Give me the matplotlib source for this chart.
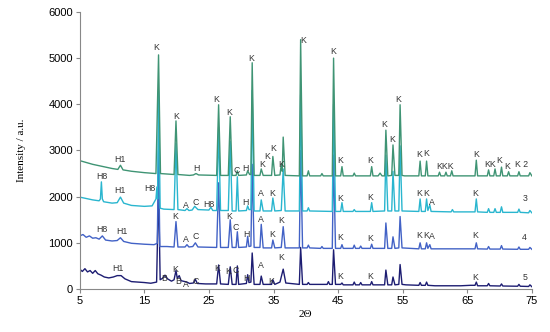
import matplotlib
matplotlib.use("Agg")
import matplotlib.pyplot as plt

# ---- data: (2theta, intensity) points ----
trace2 = [(5,2780),(6,2740),(7,2700),(8,2670),(9,2640),(10,2610),(10.9,2590),(11.3,2680),(11.7,2580),
          (13,2550),(15,2520),(16.8,2500),(17.2,5070),(17.5,2500),(19.6,2480),(19.9,3640),(20.2,2480),
          (22,2460),(22.6,2470),(23,2500),(23.4,2470),(26.2,2460),(26.5,3990),(26.8,2460),(28.0,2460),
          (28.3,3730),(28.6,2460),(29.2,2460),(29.4,2560),(29.6,2460),(30.8,2470),(31.0,2560),(31.3,2480),
          (31.5,2480),(31.7,4900),(32,2460),(32.9,2460),(33.1,2600),(33.4,2460),(34.7,2460),(34.9,2870),
          (35.2,2460),(36.0,2470),(36.2,2700),(36.35,2550),(36.5,3290),(36.8,2460),(39.0,2450),(39.2,5400),
          (39.5,2450),(40.2,2450),(40.4,2560),(40.6,2450),(42.3,2450),(42.5,2500),(42.7,2450),(44.1,2450),
          (44.3,5000),(44.6,2450),(45.4,2450),(45.6,2650),(45.8,2450),(47.3,2450),(47.5,2510),(47.7,2450),
          (50.0,2450),(50.2,2650),(50.4,2450),(51.2,2450),(51.5,2510),(51.8,2450),(52.2,2450),(52.4,3440),
          (52.7,2450),(53.3,2460),(53.5,3120),(53.8,2460),(54.4,2460),(54.6,3990),(54.9,2460),(55.3,2450),
          (57.5,2450),(57.7,2770),(57.9,2450),(58.5,2450),(58.7,2770),(58.9,2450),(60.5,2450),(60.7,2530),
          (60.9,2450),(61.5,2450),(61.7,2530),(61.9,2450),(62.4,2450),(62.6,2560),(62.8,2450),(66.2,2450),
          (66.4,2790),(66.6,2450),(68.1,2450),(68.3,2580),(68.5,2450),(69.1,2450),(69.3,2600),(69.5,2450),
          (70.1,2450),(70.3,2640),(70.5,2450),(71.2,2450),(71.4,2540),(71.6,2450),(72.8,2450),(73.0,2540),
          (73.2,2450),(74.5,2450),(74.7,2520),(75,2450)]

trace3 = [(5,1990),(6,1960),(7,1930),(8,1910),(8.2,1950),(8.35,2320),(8.5,1950),(8.7,1890),(10,1860),
          (10.8,1870),(11.3,1990),(11.8,1860),(13,1810),(15,1790),(16.2,1800),(16.8,1950),(16.95,2210),
          (17.05,1950),(17.2,4300),(17.45,1750),(18,1730),(19.6,1720),(19.9,3150),(20.2,1720),(21.3,1700),
          (21.6,1740),(21.9,1700),(22.4,1710),(22.8,1790),(23.3,1720),(25.0,1710),(25.3,1770),(25.6,1700),
          (26.2,1700),(26.5,3500),(26.8,1700),(28.0,1700),(28.3,3200),(28.6,1690),(29.2,1690),(29.4,2430),
          (29.6,1690),(30.8,1700),(31.0,1800),(31.2,1720),(31.5,1720),(31.7,4300),(32.0,1690),(32.9,1690),
          (33.1,1930),(33.4,1690),(34.7,1690),(34.9,1970),(35.2,1690),(36.2,1700),(36.5,2600),(36.8,1690),
          (39.0,1690),(39.2,4200),(39.5,1690),(40.2,1690),(40.4,1760),(40.6,1690),(44.1,1680),(44.3,4000),
          (44.6,1680),(45.4,1680),(45.6,1870),(45.8,1680),(47.3,1680),(47.5,1720),(47.7,1680),(50.0,1680),
          (50.2,1870),(50.4,1680),(52.2,1690),(52.4,2900),(52.7,1690),(53.3,1690),(53.5,2550),(53.8,1690),
          (54.4,1690),(54.6,3100),(54.9,1690),(57.5,1680),(57.7,1950),(57.9,1680),(58.5,1680),(58.7,1950),
          (58.9,1700),(59.2,1820),(59.4,1680),(62.5,1670),(62.7,1720),(62.9,1670),(66.2,1670),(66.4,1950),
          (66.6,1670),(68.1,1660),(68.3,1740),(68.5,1660),(69.1,1660),(69.3,1740),(69.5,1660),(70.1,1660),
          (70.3,1780),(70.5,1660),(72.8,1660),(73.0,1730),(73.2,1660),(74.5,1650),(74.7,1700),(75,1650)]

trace4 = [(5,1150),(5.5,1180),(6,1120),(6.5,1150),(7,1100),(7.5,1110),(8,1080),(8.5,1150),(9,1060),
          (10,1040),(10.8,1050),(11.3,1110),(11.8,1030),(13,990),(15,970),(16.5,960),(17.0,990),(17.2,3000),
          (17.4,920),(18.5,920),(19.6,910),(19.9,1460),(20.2,910),(21.3,910),(21.6,960),(21.9,910),(22.5,920),
          (22.9,1000),(23.3,910),(26.2,900),(26.5,2300),(26.8,900),(28.0,900),(28.3,1500),(28.6,900),
          (29.2,900),(29.4,1240),(29.6,900),(30.8,910),(31.0,1140),(31.2,920),(31.5,930),(31.7,2700),
          (32.0,900),(32.9,900),(33.1,1400),(33.4,890),(34.7,890),(34.9,1060),(35.2,890),(36.2,900),
          (36.5,1350),(36.8,890),(39.0,890),(39.2,3000),(39.5,890),(40.2,890),(40.4,950),(40.6,890),
          (42.3,880),(42.5,920),(42.7,880),(44.1,880),(44.3,2900),(44.6,880),(45.4,880),(45.6,960),
          (45.8,880),(47.3,880),(47.5,950),(47.7,880),(48.3,880),(48.5,930),(48.7,880),(50.0,880),
          (50.2,970),(50.4,880),(52.2,880),(52.4,1430),(52.7,880),(53.3,880),(53.5,1130),(53.8,880),
          (54.4,890),(54.6,1570),(54.9,890),(57.5,870),(57.7,1000),(57.9,870),(58.5,870),(58.7,1000),
          (58.9,880),(59.2,960),(59.4,870),(66.2,870),(66.4,1000),(66.6,870),(68.1,865),(68.3,920),
          (68.5,865),(70.1,865),(70.3,940),(70.5,865),(72.8,860),(73.0,910),(73.2,860),(74.5,860),
          (74.7,900),(75,860)]

trace5 = [(5,430),(5.4,380),(5.8,440),(6.2,370),(6.6,400),(7.0,340),(7.4,400),(7.8,330),(8.3,300),
          (8.8,260),(9.5,240),(10.2,260),(10.8,290),(11.4,290),(12,220),(13,160),(14,150),(15,140),
          (16,125),(16.9,150),(17.2,2200),(17.45,200),(17.8,230),(18.2,300),(18.6,220),(19.2,170),
          (19.6,200),(19.9,400),(20.1,230),(20.4,290),(20.7,180),(21.6,150),(22,120),(22.6,130),(22.9,210),
          (23.2,120),(24.5,110),(26.2,110),(26.5,520),(26.8,110),(28.0,100),(28.3,480),(28.6,100),
          (29.2,100),(29.4,500),(29.6,100),(30.8,120),(31.0,310),(31.2,140),(31.5,150),(31.7,780),
          (32.0,100),(32.9,100),(33.1,280),(33.4,100),(34.7,100),(34.9,200),(35.2,100),(36.0,150),
          (36.5,430),(36.9,130),(39.0,100),(39.2,900),(39.5,100),(40.2,100),(40.4,140),(40.6,100),
          (43.3,100),(43.5,160),(43.7,100),(44.1,100),(44.3,850),(44.6,100),(45.4,100),(45.6,130),
          (45.8,90),(47.3,90),(47.5,150),(47.7,90),(48.3,90),(48.5,140),(48.7,90),(50.0,90),(50.2,160),
          (50.4,90),(52.2,90),(52.4,410),(52.7,90),(53.3,90),(53.5,260),(53.8,90),(54.4,100),(54.6,530),
          (54.9,100),(55.5,90),(57.5,80),(57.7,140),(57.9,80),(58.5,80),(58.7,150),(58.9,80),(60,70),
          (64,70),(65.5,80),(66.2,80),(66.4,150),(66.6,70),(68.1,70),(68.3,120),(68.5,70),(70.1,65),
          (70.3,110),(70.5,65),(72.8,60),(73.0,100),(73.2,60),(74.5,55),(74.7,90),(75,50)]

# phase labels (text, 2theta, intensity)
labels = [
    ("K",16.9,5220),("K",19.9,3730),("K",26.2,4110),("K",28.2,3830),("K",31.6,5000),("H1",11.2,2810),
    ("H",23.0,2620),("C",29.3,2560),("H",30.7,2620),("K",33.3,2690),("K",34.0,2870),("K",34.9,3040),
    ("K",36.2,2690),("K",39.6,5390),("K",44.2,5140),("K",45.4,2790),("K",50.0,2790),("K",52.2,3570),
    ("K",53.4,3240),("K",54.3,4110),("K",57.5,2920),("K",58.7,2940),("KKK",61.5,2650),("K",66.4,2920),
    ("KK",68.6,2690),("K",70.0,2790),("K",71.2,2650),("K 2",73.4,2690),
    ("H8",8.4,2430),("H1",11.2,2130),("H8",15.8,2180),("A",21.5,1800),("C",23.0,1870),("H8",25.0,1840),
    ("H",30.7,1870),("A",33.0,2060),("K",34.8,2070),("K",45.4,1960),("K",50.0,1990),("K",57.5,2070),
    ("K",58.6,2070),("A",59.6,1870),("K",66.3,2060),("3",73.9,1960),
    ("H8",8.4,1280),("H1",11.5,1240),("K",19.8,1570),("A",21.5,1080),("C",23.0,1130),("K",28.2,1580),
    ("C",29.2,1340),("H",30.8,1190),("A",33.0,1510),("K",34.8,1190),("K",36.2,1480),("K",45.4,1120),
    ("K",50.0,1100),("K",57.5,1150),("K",58.6,1150),("A",59.6,1130),("K",66.3,1150),("4",73.9,1120),
    ("H1",10.9,450),("B",18.0,230),("K",19.8,430),("B",20.3,160),("A",21.5,90),("C",23.0,160),
    ("K",26.3,450),("K",28.0,380),("C",29.2,410),("H",30.8,230),("A",33.0,500),("K",34.7,160),
    ("K",36.2,690),("K",45.3,280),("K",50.0,280),("K",66.3,250),("5",73.9,250),
]

x_ticks = [5, 15, 25, 35, 45, 55, 65, 75]
y_ticks = [0, 1000, 2000, 3000, 4000, 5000, 6000]

colors = {"t2": "#3f9474", "t3": "#2ab6cf", "t4": "#4262c6", "t5": "#1d1d72"}

fig = plt.figure(figsize=(5.5, 3.32), dpi=100)
ax = fig.add_axes([0.145, 0.1295, 0.822, 0.8345])

for tr, key in [(trace5, "t5"), (trace4, "t4"), (trace3, "t3"), (trace2, "t2")]:
    xs = [p[0] for p in tr]
    ys = [p[1] for p in tr]
    ax.plot(xs, ys, color=colors[key], lw=1.0)

for t, x, y in labels:
    ax.text(x, y, t, fontsize=6.3, family="Liberation Sans", color="#333333",
            ha="center", va="center")

ax.set_xlim(5, 75)
ax.set_ylim(0, 6000)
ax.set_xticks(x_ticks)
ax.set_yticks(y_ticks)
for lab in ax.get_xticklabels() + ax.get_yticklabels():
    lab.set_family("Liberation Sans")
    lab.set_fontsize(8)
ax.tick_params(axis="both", color="#888888", length=3, width=0.8, pad=2)
for s in ["top", "right"]:
    ax.spines[s].set_visible(False)
for s in ["left", "bottom"]:
    ax.spines[s].set_color("#888888")
    ax.spines[s].set_linewidth(0.8)

ax.set_xlabel("2Θ", family="Liberation Serif", fontsize=8, labelpad=3)
ax.set_ylabel("Intensity / a.u.", family="Liberation Serif", fontsize=8, labelpad=16)

fig.savefig("out.png", dpi=100)
